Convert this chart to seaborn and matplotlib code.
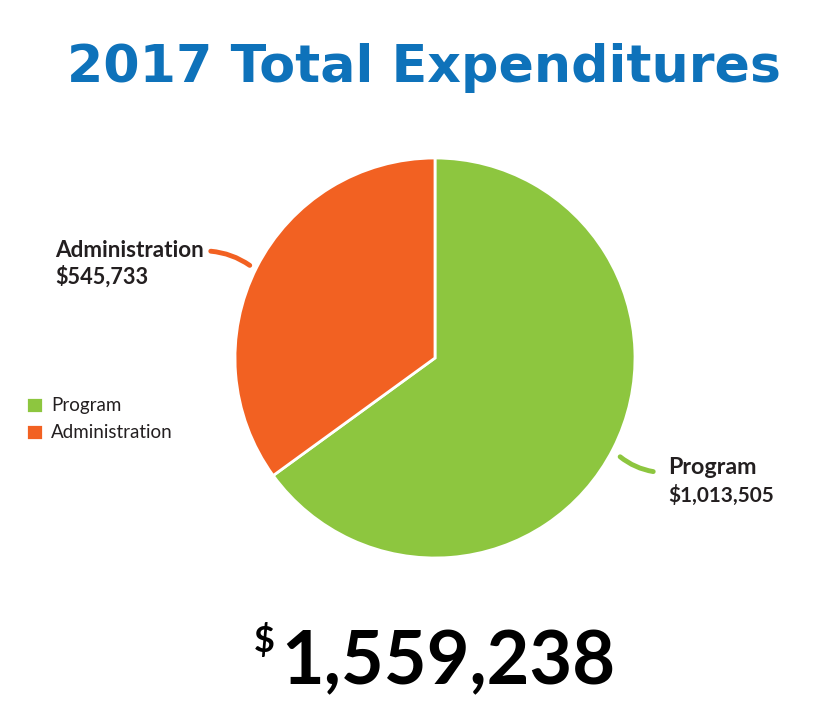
import matplotlib
matplotlib.use("Agg")
import matplotlib.pyplot as plt
import seaborn as sns
from matplotlib.patches import FancyArrowPatch

sns.set_theme(style="white")
plt.rcParams['font.family'] = ['Lato', 'DejaVu Sans']

# ---- data ----
categories = ["Program", "Administration"]
values = [1013505, 545733]
value_labels = ["$1,013,505", "$545,733"]
total_label = "1,559,238"
title = "2017 Total Expenditures"

colors = ["#8DC63F", "#F26122"]
dark = "#231F20"
blue = "#0E72BA"

W, H = 830, 719
fig = plt.figure(figsize=(W / 100, H / 100), dpi=100)
fig.patch.set_facecolor("white")

def fx(px):
    return px / W

def fy(py):
    return 1 - py / H

# pie axes: center (435,358), radius 202 px
cx, cy, r = 435, 358, 202
ax = fig.add_axes([fx(cx - r), fy(cy + r), 2 * r / W, 2 * r / H])
wedges, _ = ax.pie(values, colors=colors, startangle=90, counterclock=False,
                   wedgeprops=dict(edgecolor="white", linewidth=2))
ax.set_xlim(-1.01, 1.01)
ax.set_ylim(-1.01, 1.01)
ax.set_aspect("equal")
ax.axis("off")

renderer = fig.canvas.get_renderer()

def fit_text(x, y, s, target_w, size0, **kw):
    t = fig.text(x, y, s, fontsize=size0, **kw)
    bb = t.get_window_extent(renderer=renderer)
    t.set_fontsize(size0 * target_w / bb.width)
    return t

# title
fit_text(fx(424), fy(82), title, 712, 40, ha="center", va="baseline",
         color=blue, fontweight="heavy", family=["DejaVu Sans"])

# slice labels
lab_kw = dict(color=dark, fontweight="bold", va="baseline")
fit_text(fx(55), fy(257), categories[1], 150, 16, **lab_kw)
fit_text(fx(55), fy(284), value_labels[1], 93, 16, **lab_kw)
fit_text(fx(668), fy(474), categories[0], 89, 16, **lab_kw)
fit_text(fx(668), fy(502), value_labels[0], 106, 16, **lab_kw)

# leader lines
for (p0, p1, c, rad) in [((208, 251), (252, 267), colors[1], -0.15),
                         ((618, 455), (656, 472), colors[0], 0.15)]:
    arr = FancyArrowPatch((fx(p0[0]), fy(p0[1])), (fx(p1[0]), fy(p1[1])),
                          transform=fig.transFigure, arrowstyle="-",
                          connectionstyle=f"arc3,rad={rad}", color=c,
                          linewidth=3.5, capstyle="round")
    fig.patches.append(arr)

# legend
fig.legend(wedges, categories, loc="upper left",
           bbox_to_anchor=(fx(20), fy(391)), frameon=False,
           fontsize=13.5, handlelength=0.95, handleheight=0.95,
           handletextpad=0.4, labelspacing=0.5, labelcolor=dark,
           borderaxespad=0, borderpad=0.3)

# total
t = fit_text(fx(448), fy(684), total_label, 335, 50, ha="center",
             va="baseline", color="black", fontweight="bold",
             family=["Lato", "DejaVu Sans"])
fig.text(fx(254), fy(652), "$", fontsize=26, fontweight="bold",
         color="black", va="baseline", ha="left")

fig.savefig("out.png", dpi=100, facecolor="white")
